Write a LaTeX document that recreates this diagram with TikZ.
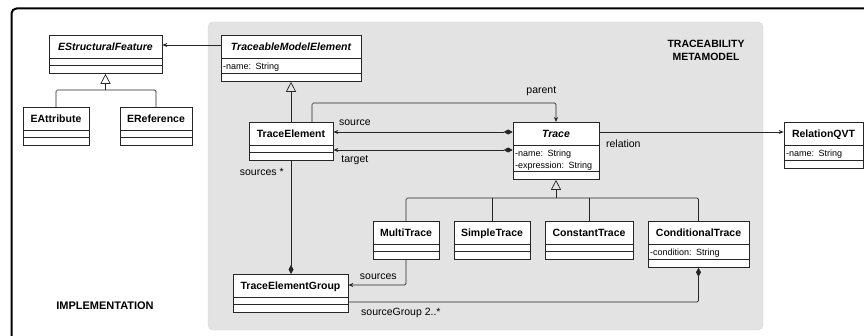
\documentclass[tikz,border=0pt]{standalone}
\usepackage{fontspec}
\setmainfont{Liberation Sans}
\usetikzlibrary{shapes}
\usetikzlibrary{arrows.meta}
\setlength{\parindent}{0pt}
\tikzstyle{umlclass}=[rectangle split, rectangle split parts=3, draw=black!85, fill=white, line width=0.7pt, inner xsep=2pt, inner ysep=0pt, align=left, anchor=north, font=\fontsize{9}{12}\selectfont]
\tikzstyle{assoc}=[draw=black!85, line width=0.7pt, rounded corners=1.5pt]
\tikzstyle{inherit}=[assoc, -{Triangle[open, length=10pt, width=10pt]}]
\tikzstyle{role}=[font=\fontsize{10.5}{12}\selectfont, inner sep=2pt]
\tikzstyle{title}=[font=\fontsize{10.5}{13}\selectfont\bfseries, align=center]
\newcommand{\cname}[1]{\centering\rule[-7pt]{0pt}{22pt}\fontsize{10.5}{12}\selectfont\bfseries #1\par}
\newcommand{\aname}[1]{\centering\rule[-7pt]{0pt}{22pt}\fontsize{10.5}{12}\selectfont\bfseries\itshape #1\par}
\newcommand{\attrs}{\rule[-4pt]{0pt}{15pt}}
\newcommand{\blank}{\rule{0pt}{7pt}}

\begin{document}
\begin{tikzpicture}[x=1pt, y=-1pt]
      \useasboundingbox (0,0) rectangle (864,336);
      % frame and metamodel panel
      \draw[line width=2pt, rounded corners=5pt] (11.5,345) -- (11.5,8.5) -- (875,8.5);
      \filldraw[fill=black!11, draw=black!17, rounded corners=5pt] (208,22) rectangle (763,330);
      \node[title] at (706,50) (metatitle) {TRACEABILITY\\METAMODEL};
      \node[title, font=\fontsize{11}{13}\selectfont\bfseries] at (105,306) (impltitle) {IMPLEMENTATION};

      \node[umlclass, text width=109pt] at (105.5,35) (ESF) {\aname{EStructuralFeature}\nodepart{two}\blank\nodepart{three}\blank};
      \node[umlclass, text width=62pt] at (56,107) (EA) {\cname{EAttribute}\nodepart{two}\blank\nodepart{three}\blank};
      \node[umlclass, text width=68pt] at (156,107) (ER) {\cname{EReference}\nodepart{two}\blank\nodepart{three}\blank};
      \node[umlclass, text width=136pt] at (291,35) (TME) {\aname{TraceableModelElement}\nodepart{two}\attrs-name: String\nodepart{three}\blank};
      \node[umlclass, text width=80pt] at (291,122) (TE) {\cname{TraceElement}\nodepart{two}\blank\nodepart{three}\blank};
      \node[umlclass, text width=82pt] at (556,122) (Trace) {\aname{Trace}\nodepart{two}\rule{0pt}{11pt}-name: String\\-expression: String\rule[-3pt]{0pt}{3pt}\nodepart{three}\blank};
      \node[umlclass, text width=75pt] at (823.5,122) (RQVT) {\cname{RelationQVT}\nodepart{two}\attrs-name: String\nodepart{three}\blank};
      \node[umlclass, text width=62pt] at (406,221) (MT) {\cname{MultiTrace}\nodepart{two}\blank\nodepart{three}\blank};
      \node[umlclass, text width=72pt] at (492,221) (ST) {\cname{SimpleTrace}\nodepart{two}\blank\nodepart{three}\blank};
      \node[umlclass, text width=84pt] at (589,221) (CT) {\cname{ConstantTrace}\nodepart{two}\blank\nodepart{three}\blank};
      \node[umlclass, text width=97pt] at (698.5,221) (CondT) {\cname{ConditionalTrace}\nodepart{two}\attrs-condition: String\nodepart{three}\blank};
      \node[umlclass, text width=111pt] at (290.5,274) (TEG) {\cname{TraceElementGroup}\nodepart{two}\blank\nodepart{three}\blank};

      % inheritance
      \coordinate (ejoin) at (105.5,90);
      \draw[assoc] (EA.north) |- (ejoin) -| (ER.north);
      \draw[inherit] (ejoin) -- (ESF.south);
      \draw[inherit] (TE.north) -- (TE.north |- TME.south);
      \coordinate (tjoin) at (556,198);
      \draw[assoc] (MT.north) |- (tjoin) -| (CondT.north);
      \draw[assoc] (ST.north) -- (ST.north |- tjoin);
      \draw[assoc] (CT.north) -- (CT.north |- tjoin);
      \draw[inherit] (tjoin) -- (Trace.south);

      % associations
      \draw[assoc, -{Stealth[length=5pt, width=4pt]}] ([yshift=-10pt]TME.north west) -- ([yshift=-10pt]ESF.north east);
      \draw[assoc, -{Stealth[length=5pt, width=4pt]}] ([xshift=21pt]TE.north) |- node[role, pos=0.97, above=5pt] {parent} ([yshift=19pt]Trace.north) -- (Trace.north);
      \draw[assoc, {Stealth[length=5pt, width=4pt]}-{Diamond[length=9pt, width=5pt]}] ([yshift=-10pt]TE.north east) -- node[role, above=4pt, pos=0.12] {source} ([yshift=-10pt]Trace.north west);
      \draw[assoc, {Stealth[length=5pt, width=4pt]}-{Diamond[length=9pt, width=5pt]}] ([yshift=-28pt]TE.north east) -- node[role, below=3pt, pos=0.12] {target} ([yshift=-28pt]Trace.north west);
      \draw[assoc, -{Stealth[length=5pt, width=4pt]}] ([yshift=-10pt]Trace.north east) -- node[role, below=6pt, pos=0.13] {relation} ([yshift=-10pt]RQVT.north west);
      \draw[assoc, -{Diamond[length=9pt, width=5pt]}] (TE.south) -- node[role, left=5pt, pos=0.1] {sources *} (TE.south |- TEG.north);
      \draw[assoc, -{Stealth[length=5pt, width=4pt]}] (MT.south) |- node[role, above=3pt, pos=0.74] {sources} ([yshift=-11pt]TEG.north east);
      \draw[assoc, {Diamond[length=9pt, width=5pt]}-] (CondT.south) |- node[role, below=4pt, pos=0.925] {sourceGroup 2..*} ([yshift=-28pt]TEG.north east);
\end{tikzpicture}
\end{document}
